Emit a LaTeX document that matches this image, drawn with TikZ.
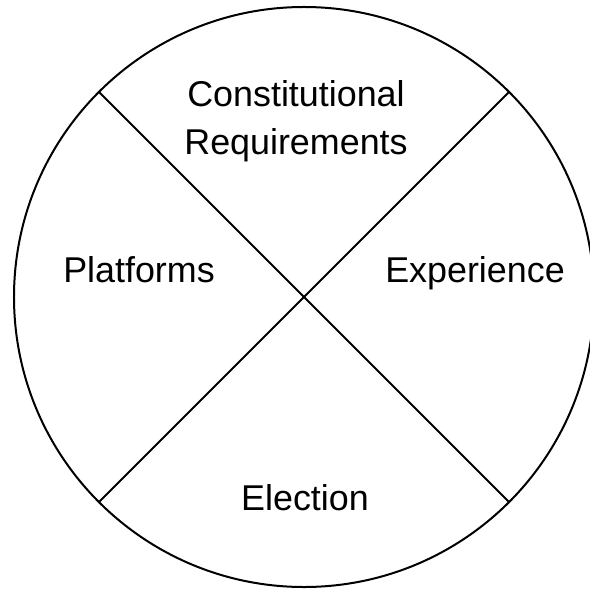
\documentclass[tikz,border=0pt]{standalone}
\usepackage{fontspec}
\setmainfont{Liberation Sans}
\usetikzlibrary{positioning}

\begin{document}
\begin{tikzpicture}[x=1bp,y=-1bp,
  wheel/.style={circle,draw,line width=2bp,minimum size=580bp,outer sep=0pt,inner sep=0pt},
  spoke/.style={line width=2bp},
  sectorlabel/.style={font=\fontsize{36}{48}\selectfont,inner sep=0pt,anchor=base,align=center}]
  \useasboundingbox (0,0) rectangle (590,592);
  \node [wheel] (rim) at (304,297) {};
  \draw [spoke] (rim.north west) -- (rim.south east);
  \draw [spoke] (rim.north east) -- (rim.south west);
  \node [sectorlabel] (constitutional) at (296,107) {Constitutional};
  \node [sectorlabel] (requirements) at (296,155) {Requirements};
  \node [sectorlabel] (platforms) at (139,282) {Platforms};
  \node [sectorlabel] (experience) at (475,282) {Experience};
  \node [sectorlabel] (election) at (305,510) {Election};
\end{tikzpicture}
\end{document}
